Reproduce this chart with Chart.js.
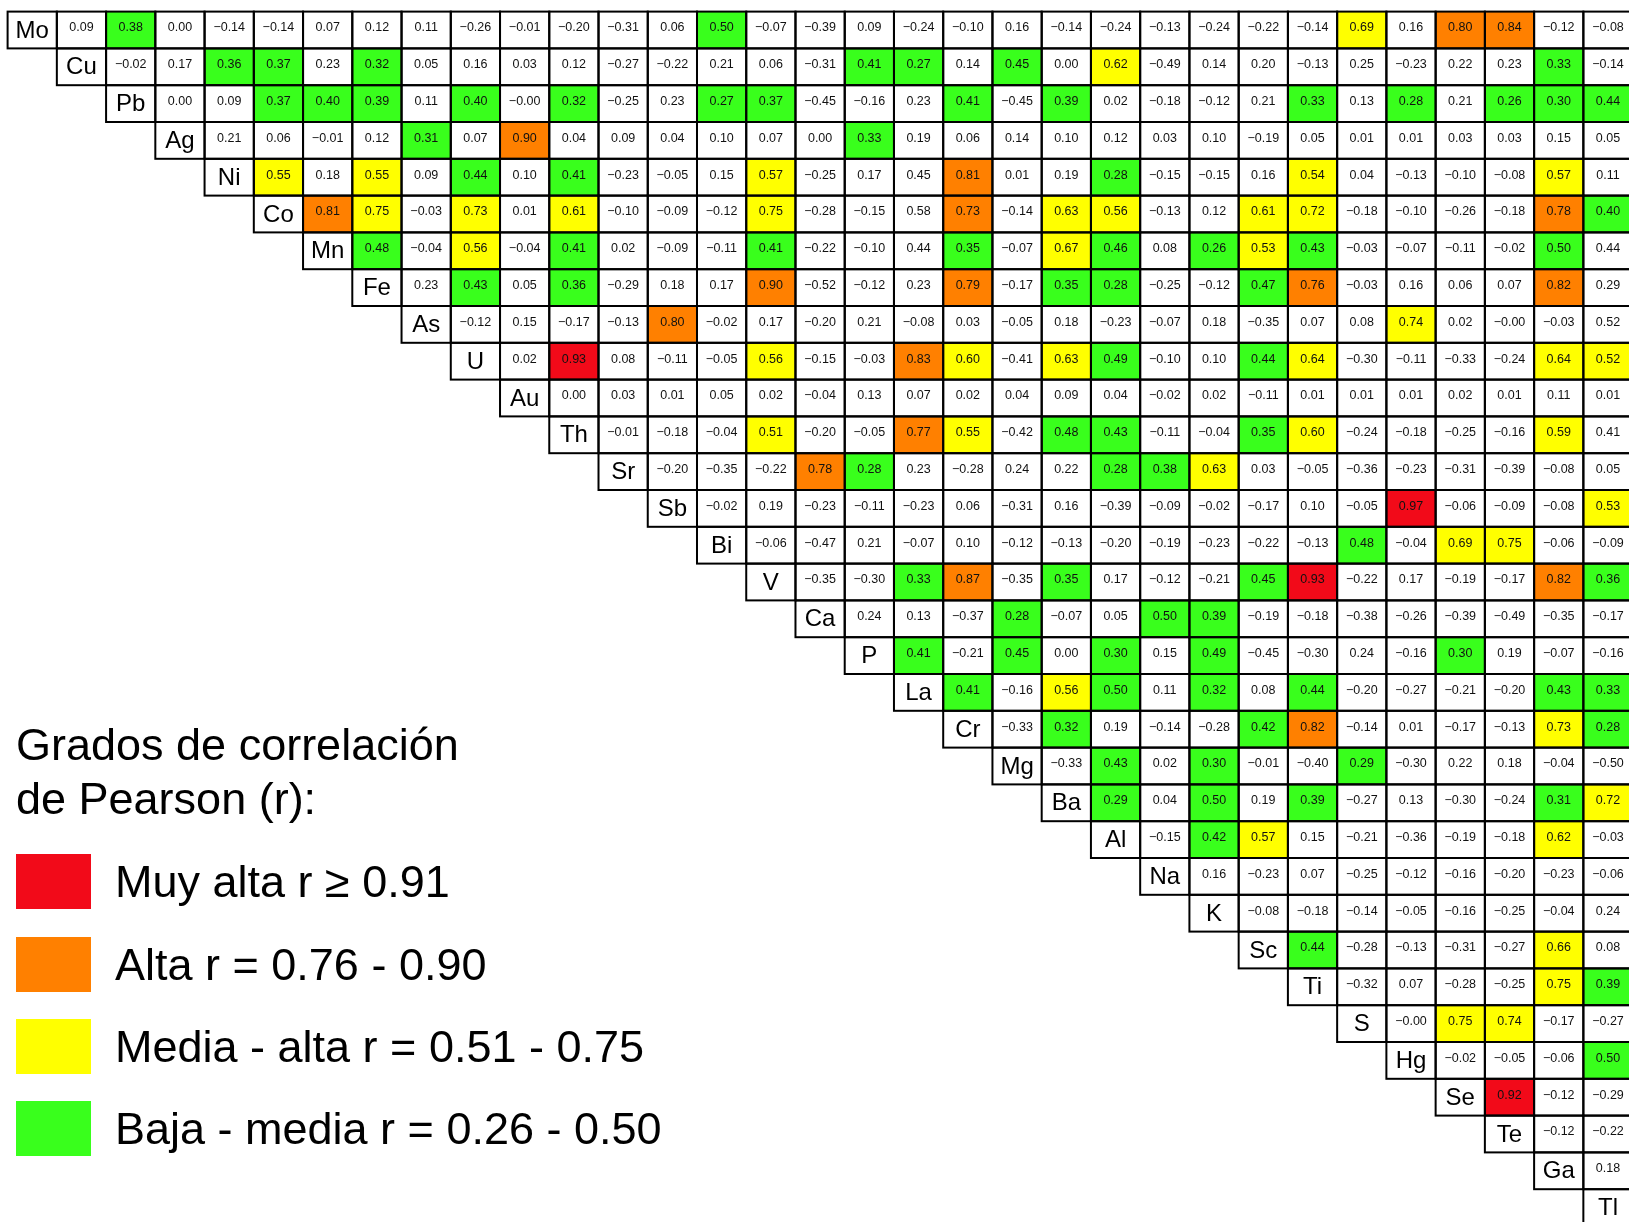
<!DOCTYPE html>
<html>
<head>
<meta charset="utf-8">
<script src="https://cdn.jsdelivr.net/npm/chart.js@4.4.1/dist/chart.umd.min.js"></script>
<style>
  html, body { margin: 0; padding: 0; background: #fff; width: 1629px; height: 1222px; overflow: hidden; }
  #wrap { position: absolute; left: 0; top: 0; }
  #legend { position: absolute; left: 0; top: 0; font-family: 'Liberation Sans', Arial, sans-serif; color: #000; }
  .title { position: absolute; left: 16px; top: 718px; font-size: 45px; line-height: 54px; white-space: nowrap; }
  .item { position: absolute; left: 16px; height: 55px; display: flex; align-items: center; white-space: nowrap; }
  .swatch { width: 75px; height: 55px; margin-right: 24px; }
  .item span { font-size: 45px; }
</style>
</head>
<body>
<div id="wrap"><canvas id="chart" width="1640" height="1240"></canvas></div>
<div id="legend"></div>
<script>
const elements = ['Mo', 'Cu', 'Pb', 'Ag', 'Ni', 'Co', 'Mn', 'Fe', 'As', 'U', 'Au', 'Th', 'Sr', 'Sb', 'Bi', 'V',
  'Ca', 'P', 'La', 'Cr', 'Mg', 'Ba', 'Al', 'Na', 'K', 'Sc', 'Ti', 'S', 'Hg', 'Se', 'Te', 'Ga', 'Tl'];

// each row holds r against the elements to its right
const rMo = [0.09, 0.38, 0.00, -0.14, -0.14, 0.07, 0.12, 0.11, -0.26, -0.01, -0.20, -0.31, 0.06, 0.50, -0.07, -0.39,
  0.09, -0.24, -0.10, 0.16, -0.14, -0.24, -0.13, -0.24, -0.22, -0.14, 0.69, 0.16, 0.80, 0.84, -0.12, -0.08];
const rCu = [-0.02, 0.17, 0.36, 0.37, 0.23, 0.32, 0.05, 0.16, 0.03, 0.12, -0.27, -0.22, 0.21, 0.06, -0.31, 0.41,
  0.27, 0.14, 0.45, 0.00, 0.62, -0.49, 0.14, 0.20, -0.13, 0.25, -0.23, 0.22, 0.23, 0.33, -0.14];
const rPb = [0.00, 0.09, 0.37, 0.40, 0.39, 0.11, 0.40, -0.00, 0.32, -0.25, 0.23, 0.27, 0.37, -0.45, -0.16, 0.23,
  0.41, -0.45, 0.39, 0.02, -0.18, -0.12, 0.21, 0.33, 0.13, 0.28, 0.21, 0.26, 0.30, 0.44];
const rAg = [0.21, 0.06, -0.01, 0.12, 0.31, 0.07, 0.90, 0.04, 0.09, 0.04, 0.10, 0.07, 0.00, 0.33, 0.19, 0.06,
  0.14, 0.10, 0.12, 0.03, 0.10, -0.19, 0.05, 0.01, 0.01, 0.03, 0.03, 0.15, 0.05];
const rNi = [0.55, 0.18, 0.55, 0.09, 0.44, 0.10, 0.41, -0.23, -0.05, 0.15, 0.57, -0.25, 0.17, 0.45, 0.81, 0.01,
  0.19, 0.28, -0.15, -0.15, 0.16, 0.54, 0.04, -0.13, -0.10, -0.08, 0.57, 0.11];
const rCo = [0.81, 0.75, -0.03, 0.73, 0.01, 0.61, -0.10, -0.09, -0.12, 0.75, -0.28, -0.15, 0.58, 0.73, -0.14, 0.63,
  0.56, -0.13, 0.12, 0.61, 0.72, -0.18, -0.10, -0.26, -0.18, 0.78, 0.40];
const rMn = [0.48, -0.04, 0.56, -0.04, 0.41, 0.02, -0.09, -0.11, 0.41, -0.22, -0.10, 0.44, 0.35, -0.07, 0.67,
  0.46, 0.08, 0.26, 0.53, 0.43, -0.03, -0.07, -0.11, -0.02, 0.50, 0.44];
const rFe = [0.23, 0.43, 0.05, 0.36, -0.29, 0.18, 0.17, 0.90, -0.52, -0.12, 0.23, 0.79, -0.17, 0.35,
  0.28, -0.25, -0.12, 0.47, 0.76, -0.03, 0.16, 0.06, 0.07, 0.82, 0.29];
const rAs = [-0.12, 0.15, -0.17, -0.13, 0.80, -0.02, 0.17, -0.20, 0.21, -0.08, 0.03, -0.05, 0.18,
  -0.23, -0.07, 0.18, -0.35, 0.07, 0.08, 0.74, 0.02, -0.00, -0.03, 0.52];
const rU = [0.02, 0.93, 0.08, -0.11, -0.05, 0.56, -0.15, -0.03, 0.83, 0.60, -0.41, 0.63,
  0.49, -0.10, 0.10, 0.44, 0.64, -0.30, -0.11, -0.33, -0.24, 0.64, 0.52];
const rAu = [0.00, 0.03, 0.01, 0.05, 0.02, -0.04, 0.13, 0.07, 0.02, 0.04, 0.09,
  0.04, -0.02, 0.02, -0.11, 0.01, 0.01, 0.01, 0.02, 0.01, 0.11, 0.01];
const rTh = [-0.01, -0.18, -0.04, 0.51, -0.20, -0.05, 0.77, 0.55, -0.42, 0.48,
  0.43, -0.11, -0.04, 0.35, 0.60, -0.24, -0.18, -0.25, -0.16, 0.59, 0.41];
const rSr = [-0.20, -0.35, -0.22, 0.78, 0.28, 0.23, -0.28, 0.24, 0.22,
  0.28, 0.38, 0.63, 0.03, -0.05, -0.36, -0.23, -0.31, -0.39, -0.08, 0.05];
const rSb = [-0.02, 0.19, -0.23, -0.11, -0.23, 0.06, -0.31, 0.16,
  -0.39, -0.09, -0.02, -0.17, 0.10, -0.05, 0.97, -0.06, -0.09, -0.08, 0.53];
const rBi = [-0.06, -0.47, 0.21, -0.07, 0.10, -0.12, -0.13,
  -0.20, -0.19, -0.23, -0.22, -0.13, 0.48, -0.04, 0.69, 0.75, -0.06, -0.09];
const rV = [-0.35, -0.30, 0.33, 0.87, -0.35, 0.35,
  0.17, -0.12, -0.21, 0.45, 0.93, -0.22, 0.17, -0.19, -0.17, 0.82, 0.36];
const rCa = [0.24, 0.13, -0.37, 0.28, -0.07,
  0.05, 0.50, 0.39, -0.19, -0.18, -0.38, -0.26, -0.39, -0.49, -0.35, -0.17];
const rP = [0.41, -0.21, 0.45, 0.00, 0.30, 0.15, 0.49, -0.45, -0.30, 0.24, -0.16, 0.30, 0.19, -0.07, -0.16];
const rLa = [0.41, -0.16, 0.56, 0.50, 0.11, 0.32, 0.08, 0.44, -0.20, -0.27, -0.21, -0.20, 0.43, 0.33];
const rCr = [-0.33, 0.32, 0.19, -0.14, -0.28, 0.42, 0.82, -0.14, 0.01, -0.17, -0.13, 0.73, 0.28];
const rMg = [-0.33, 0.43, 0.02, 0.30, -0.01, -0.40, 0.29, -0.30, 0.22, 0.18, -0.04, -0.50];
const rBa = [0.29, 0.04, 0.50, 0.19, 0.39, -0.27, 0.13, -0.30, -0.24, 0.31, 0.72];
const rAl = [-0.15, 0.42, 0.57, 0.15, -0.21, -0.36, -0.19, -0.18, 0.62, -0.03];
const rNa = [0.16, -0.23, 0.07, -0.25, -0.12, -0.16, -0.20, -0.23, -0.06];
const rK = [-0.08, -0.18, -0.14, -0.05, -0.16, -0.25, -0.04, 0.24];
const rSc = [0.44, -0.28, -0.13, -0.31, -0.27, 0.66, 0.08];
const rTi = [-0.32, 0.07, -0.28, -0.25, 0.75, 0.39];
const rS = [-0.00, 0.75, 0.74, -0.17, -0.27];
const rHg = [-0.02, -0.05, -0.06, 0.50];
const rSe = [0.92, -0.12, -0.29];
const rTe = [-0.12, -0.22];
const rGa = [0.18];
const rTl = [];

const matrixRows = [rMo, rCu, rPb, rAg, rNi, rCo, rMn, rFe, rAs, rU, rAu, rTh, rSr, rSb, rBi, rV,
  rCa, rP, rLa, rCr, rMg, rBa, rAl, rNa, rK, rSc, rTi, rS, rHg, rSe, rTe, rGa, rTl];

// grades: 0 muy alta, 1 alta, 2 media-alta, 3 baja-media
const gradeLimits = [0.91, 0.76, 0.51, 0.26];
const gradeNames = ['Muy alta r \u2265 0.91', 'Alta r = 0.76 - 0.90', 'Media - alta r = 0.51 - 0.75',
  'Baja - media r = 0.26 - 0.50'];
// cells shaded differently from the thresholds in the published table
const unshaded = [['Ni', 'La'], ['Co', 'La'], ['Mn', 'La'], ['Mn', 'Tl'], ['Fe', 'Tl'], ['As', 'Tl'], ['Th', 'Tl']];
const shadeOverrides = [['Co', 'Cr', 1]];

const gradeColors = ['#f20a19', '#ff8000', '#ffff00', '#39ff1c'];

function gradeOf(row, col, v) {
  const a = elements[row], b = elements[col];
  const o = shadeOverrides.find((p) => p[0] === a && p[1] === b);
  if (o) return o[2];
  if (unshaded.some((p) => p[0] === a && p[1] === b)) return -1;
  return gradeLimits.findIndex((t) => v >= t);
}

function fmt(v) {
  const neg = v < 0 || Object.is(v, -0);
  return (neg ? '\u2212' : '') + Math.abs(v).toFixed(2);
}

const datasets = matrixRows.map((vals, r) => {
  const data = [];
  const colors = [];
  elements.forEach((_, c) => {
    if (c < r) {
      data.push(null);
      colors.push('#fff');
      return;
    }
    data.push([r, r + 1]);
    if (c === r) {
      colors.push('#fff');
    } else {
      const g = gradeOf(r, c, vals[c - r - 1]);
      colors.push(g < 0 ? '#fff' : gradeColors[g]);
    }
  });
  return {
    label: elements[r],
    data,
    backgroundColor: colors,
    borderWidth: 0,
    grouped: false,
    barPercentage: 1,
    categoryPercentage: 1,
  };
});

// outlines + numbers on top of the bars
const cellText = {
  id: 'cellText',
  afterDatasetsDraw(chart) {
    const ctx = chart.ctx;
    const yScale = chart.scales.y;
    ctx.save();
    ctx.strokeStyle = '#000';
    ctx.lineWidth = 2;
    chart.data.datasets.forEach((ds, r) => {
      const meta = chart.getDatasetMeta(r);
      meta.data.forEach((bar, c) => {
        if (c < r) return;
        const top = Math.min(bar.y, bar.base);
        const h = Math.abs(bar.base - bar.y);
        ctx.strokeRect(bar.x - bar.width / 2, top, bar.width, h);
      });
    });
    ctx.textAlign = 'center';
    ctx.textBaseline = 'middle';
    chart.data.datasets.forEach((ds, r) => {
      const meta = chart.getDatasetMeta(r);
      const cy = yScale.getPixelForValue(r + 0.5);
      meta.data.forEach((bar, c) => {
        if (c < r) return;
        if (c === r) {
          ctx.font = '24px "Liberation Sans", Arial, sans-serif';
          ctx.fillStyle = '#000';
          ctx.fillText(elements[r], bar.x, cy + 1);
        } else {
          ctx.font = '12.5px "Liberation Sans", Arial, sans-serif';
          ctx.fillStyle = '#111';
          ctx.fillText(fmt(matrixRows[r][c - r - 1]), bar.x, cy - 2);
        }
      });
    });
    ctx.restore();
  },
};

new Chart(document.getElementById('chart'), {
  type: 'bar',
  data: { labels: elements, datasets },
  options: {
    responsive: false,
    animation: false,
    events: [],
    layout: { padding: { left: 7.6, top: 11.6, right: 7.4, bottom: 14 } },
    scales: {
      x: { display: false, offset: true },
      y: { display: false, min: 0, max: elements.length, reverse: true },
    },
    plugins: {
      legend: { display: false },
      tooltip: { enabled: false },
    },
  },
  plugins: [cellText],
});

// legend block, bottom left
const legendEl = document.getElementById('legend');
const title = document.createElement('div');
title.className = 'title';
title.innerHTML = 'Grados de correlación<br>de Pearson (r):';
legendEl.appendChild(title);
const itemTops = [854, 937, 1019, 1101];
gradeNames.forEach((name, i) => {
  const item = document.createElement('div');
  item.className = 'item';
  item.style.top = itemTops[i] + 'px';
  const sw = document.createElement('div');
  sw.className = 'swatch';
  sw.style.background = gradeColors[i];
  const label = document.createElement('span');
  label.textContent = name;
  item.appendChild(sw);
  item.appendChild(label);
  legendEl.appendChild(item);
});
</script>
</body>
</html>
